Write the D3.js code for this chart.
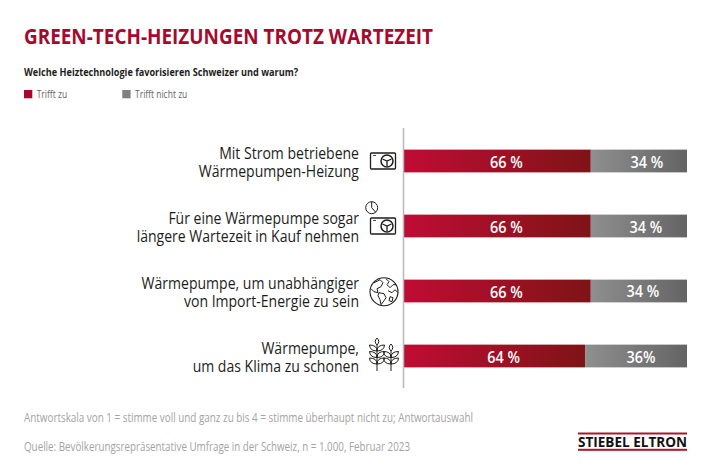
<!DOCTYPE html>
<html>
  <head>
    <meta charset="UTF-8" />
    <title>Green-Tech-Heizungen trotz Wartezeit</title>
    <script src="https://d3js.org/d3.v7.min.js"></script>
    <style>
      body { margin: 0; background: #fff; }
      svg { display: block; }
      text { font-family: "Open Sans", sans-serif; }
    </style>
  </head>

  <body>
    <div id="main"></div>
    <script type="text/javascript">
      const categories = [
        ['Mit Strom betriebene', 'Wärmepumpen-Heizung'],
        ['Für eine Wärmepumpe sogar', 'längere Wartezeit in Kauf nehmen'],
        ['Wärmepumpe, um unabhängiger', 'von Import-Energie zu sein'],
        ['Wärmepumpe,', 'um das Klima zu schonen'],
      ];
      const trifftZu = [66, 66, 66, 64];
      const trifftNichtZu = [34, 34, 34, 36];
      const nichtZuLabels = ['34 %', '34 %', '34 %', '36%'];
      const legendLabels = ['Trifft zu', 'Trifft nicht zu'];

      const width = 710;
      const height = 473;
      const red = '#a6092d';
      const ink = '#1d1d1b';

      const svg = d3
        .select('div#main')
        .append('svg')
        .attr('width', width)
        .attr('height', height);

      const defs = svg.append('defs');
      function gradient(id, from, to) {
        const g = defs.append('linearGradient').attr('id', id);
        g.append('stop').attr('offset', 0).attr('stop-color', from);
        g.append('stop').attr('offset', 1).attr('stop-color', to);
      }
      gradient('redGrad', '#c00c34', '#7e1416');
      gradient('greyGrad', '#8f8f8f', '#646464');

      // Open Sans is wider than the original face, so squeeze text horizontally
      function squeeze(selection, factor) {
        selection.each(function () {
          const w = this.getComputedTextLength();
          d3.select(this)
            .attr('textLength', w * factor)
            .attr('lengthAdjust', 'spacingAndGlyphs');
        });
      }

      // title block
      svg.append('text').attr('x', 24).attr('y', 43.5)
        .attr('font-size', 22).attr('font-weight', 700).attr('fill', red)
        .attr('textLength', 409).attr('lengthAdjust', 'spacingAndGlyphs')
        .text('GREEN-TECH-HEIZUNGEN TROTZ WARTEZEIT');
      svg.append('text').attr('x', 24).attr('y', 76)
        .attr('font-size', 11).attr('font-weight', 700).attr('fill', ink)
        .attr('textLength', 274).attr('lengthAdjust', 'spacingAndGlyphs')
        .text('Welche Heiztechnologie favorisieren Schweizer und warum?');

      // legend
      const legendX = d3.scalePoint().domain(legendLabels).range([24, 122.3]);
      const legend = svg.selectAll('g.legend').data(legendLabels).join('g')
        .attr('class', 'legend')
        .attr('transform', (d) => `translate(${legendX(d)},90)`);
      legend.append('rect').attr('width', 8.3).attr('height', 8.3)
        .attr('fill', (d, i) => (i === 0 ? red : '#808080'));
      legend.append('text').attr('x', 12.7).attr('y', 7.5)
        .attr('font-size', 10).attr('fill', '#666')
        .text((d) => d)
        .call(squeeze, 0.85);

      // scales
      const x = d3.scaleLinear().domain([0, 100]).range([404, 687]);
      const y = d3.scaleBand().domain(d3.range(categories.length))
        .range([128.5, 388.5]).paddingInner(0.65).paddingOuter(0.325);

      // bars
      const rows = svg.selectAll('g.row').data(categories).join('g').attr('class', 'row');
      rows.append('rect')
        .attr('x', x(0))
        .attr('y', (d, i) => y(i))
        .attr('width', (d, i) => x(trifftZu[i]) - x(0))
        .attr('height', y.bandwidth())
        .attr('fill', 'url(#redGrad)');
      rows.append('rect')
        .attr('x', (d, i) => x(trifftZu[i]))
        .attr('y', (d, i) => y(i))
        .attr('width', (d, i) => x(trifftZu[i] + trifftNichtZu[i]) - x(trifftZu[i]))
        .attr('height', y.bandwidth())
        .attr('fill', 'url(#greyGrad)');

      // value labels sit a little right of the segment centres, the grey ones drift per row
      const greyNudgeX = [1, 0, -3, -2];
      const greyNudgeY = [0, 0, -1, 0];
      rows.append('text')
        .attr('x', (d, i) => (x(0) + x(trifftZu[i])) / 2 + 9)
        .attr('y', (d, i) => y(i) + y.bandwidth() / 2 + 6.5)
        .attr('text-anchor', 'middle').attr('font-size', 17).attr('font-weight', 600)
        .attr('fill', '#fff')
        .text((d, i) => `${trifftZu[i]} %`)
        .call(squeeze, 0.85);
      rows.append('text')
        .attr('x', (d, i) => (x(trifftZu[i]) + x(100)) / 2 + 7 + greyNudgeX[i])
        .attr('y', (d, i) => y(i) + y.bandwidth() / 2 + 6.5 + greyNudgeY[i])
        .attr('text-anchor', 'middle').attr('font-size', 17).attr('font-weight', 600)
        .attr('fill', '#fff')
        .text((d, i) => nichtZuLabels[i])
        .call(squeeze, 0.85);

      // category labels
      rows.each(function (d, i) {
        d3.select(this).selectAll('text.cat').data(d).join('text')
          .attr('class', 'cat')
          .attr('x', 359)
          .attr('y', (line, j) => y(i) + y.bandwidth() / 2 + j * 18 - 2)
          .attr('text-anchor', 'end').attr('font-size', 16.5).attr('fill', ink)
          .text((line) => line)
          .call(squeeze, 0.85);
      });

      // axis line
      svg.append('line').attr('x1', x(0) - 0.5).attr('x2', x(0) - 0.5)
        .attr('y1', 128).attr('y2', 388)
        .attr('stroke', '#b8b8b8').attr('stroke-width', 1.5);

      // icons
      const icons = svg.append('g').attr('fill', 'none').attr('stroke', ink).attr('stroke-width', 1);
      function heatPump(cy) {
        const g = icons.append('g').attr('transform', `translate(370.5,${cy - 8})`);
        g.append('rect').attr('width', 25).attr('height', 16).attr('rx', 1).attr('stroke-width', 1.3);
        g.append('circle').attr('cx', 16.5).attr('cy', 8).attr('r', 6).attr('stroke-width', 1.5);
        g.append('path').attr('d', 'M12 6L16.5 8L21 6M16.5 8V13').attr('stroke-width', 1.3);
        g.append('path').attr('d', 'M2.5 2.5H5.5').attr('stroke-width', 0.8);
      }
      heatPump(y(0) + y.bandwidth() / 2);
      heatPump(y(1) + y.bandwidth() / 2);

      const clock = icons.append('g').attr('transform', 'translate(371.7,207.7)');
      clock.append('circle').attr('r', 6);
      clock.append('path').attr('d', 'M0 -6V0L4 4.5');

      const globe = icons.append('g').attr('transform', 'translate(384,291.7)');
      globe.append('circle').attr('r', 14).attr('stroke-width', 1.1);
      globe.append('path').attr('d', 'M-10 -9L-4 -12L-1 -9L-3 -5L-7 -3L-6 1L-10 0L-13 -3');
      globe.append('path').attr('d', 'M-5 1L0 2L2 6L0 9L-3 13L-4 8L-6 4Z');
      globe.append('path').attr('d', 'M2 -13L5 -10L3 -7L6 -4L9 -7L12 -7M4 -1L8 1L11 -2L14 1M6 5L9 6L8 10L5 9Z');

      function plant(px, base, top, n) {
        const g = icons.append('g').attr('transform', `translate(${px},0)`);
        g.append('path').attr('d', `M0 ${base}V${top + 7}`);
        d3.range(n).forEach((k) => {
          const ly = base - 7 - k * 6.5;
          g.append('path').attr('d', `M0 ${ly}Q-7 ${ly} -7.5 ${ly - 6}Q0 ${ly - 6} 0 ${ly}Q7 ${ly} 7.5 ${ly - 6}Q0 ${ly - 6} 0 ${ly}`);
        });
        g.append('path').attr('d', `M0 ${top + 7}Q-3.5 ${top + 3.5} 0 ${top}Q3.5 ${top + 3.5} 0 ${top + 7}`);
      }
      plant(377, 371, 338, 3);
      plant(391, 371, 344, 2);

      // notes
      const notes = svg.append('g').attr('font-size', 12).attr('fill', '#a3a3a3');
      notes.append('text').attr('x', 24).attr('y', 421.5)
        .attr('textLength', 449).attr('lengthAdjust', 'spacingAndGlyphs')
        .text('Antwortskala von 1 = stimme voll und ganz zu bis 4 = stimme überhaupt nicht zu; Antwortauswahl');
      notes.append('text').attr('x', 24).attr('y', 450.5)
        .attr('textLength', 386).attr('lengthAdjust', 'spacingAndGlyphs')
        .text('Quelle: Bevölkerungsrepräsentative Umfrage in der Schweiz, n = 1.000, Februar 2023');

      // logo
      const logo = svg.append('g');
      logo.append('rect').attr('x', 578).attr('y', 432.5).attr('width', 109).attr('height', 2).attr('fill', '#b3122f');
      logo.append('rect').attr('x', 578).attr('y', 448.8).attr('width', 109).attr('height', 2).attr('fill', '#b3122f');
      logo.append('text').attr('x', 578).attr('y', 446.8)
        .attr('font-size', 14).attr('font-weight', 700).attr('fill', '#111')
        .attr('textLength', 109).attr('lengthAdjust', 'spacingAndGlyphs')
        .text('STIEBEL ELTRON');
    </script>
  </body>
</html>
